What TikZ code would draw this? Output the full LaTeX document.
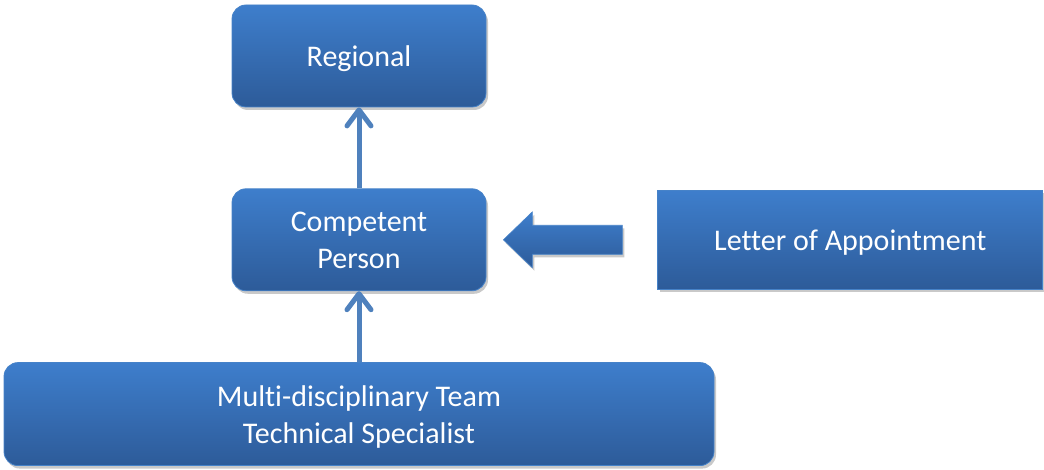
\documentclass[tikz,border=0pt]{standalone}
\usepackage{fontspec}
\setmainfont[Ligatures=NoCommon]{Carlito}
\usetikzlibrary{arrows.meta,positioning,shadows}
\definecolor{boxtop}{RGB}{62,126,204}
\definecolor{boxbot}{RGB}{45,91,153}
\definecolor{boxedge}{RGB}{70,130,200}
\definecolor{arline}{RGB}{79,129,189}

\begin{document}
\begin{tikzpicture}[
  x=1pt,y=1pt,
  node distance=81pt,
  shd/.style={drop shadow={shadow xshift=2pt,shadow yshift=-3pt,opacity=0.3,fill=black!70}},
  blk/.style={draw=boxedge,line width=0.8pt,rounded corners=14pt,top color=boxtop,bottom color=boxbot,
    text=white,minimum width=254pt,minimum height=102pt,align=center,text depth=0pt,
    font=\fontsize{30}{37}\selectfont,shd},
  sq/.style={blk,sharp corners,minimum width=385pt,minimum height=99pt},
  ar/.style={-{Straight Barb[length=16pt,width=24pt,line width=5pt,round]},line width=5pt,arline},
  barr/.style={top color=boxtop,bottom color=boxbot,draw=boxedge,line width=0.6pt,shd}
]
\useasboundingbox (0,0) rectangle (1044,470);
\node[blk] (reg) at (359,414) {Regional};
\node[blk,below=of reg] (cp) {Competent\\Person};
\node[sq,right=171pt of cp] (letter) {Letter of Appointment};
\node[blk,minimum width=710pt,minimum height=103pt,below=71pt of cp] (team) {Multi-disciplinary Team\\Technical Specialist};
\draw[ar] (cp) -- (reg);
\draw[ar] (team) -- (cp);
% block arrow from the letter into the competent person
\path[barr] ([xshift=17pt]cp.east) -- ++(29,28) -- ++(0,-13.5) -- ++(90,0) -- ++(0,-29)
   -- ++(-90,0) -- ++(0,-13.5) -- cycle;
\end{tikzpicture}
\end{document}
